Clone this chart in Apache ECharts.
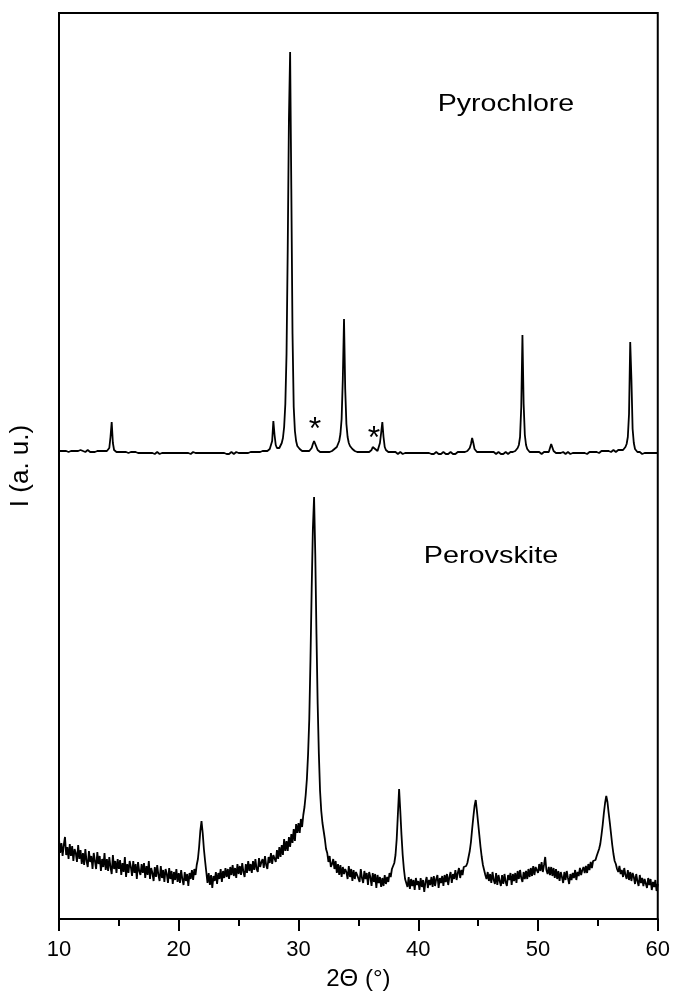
<!DOCTYPE html>
<html><head><meta charset="utf-8">
<script src="https://cdn.jsdelivr.net/npm/echarts@6/dist/echarts.min.js"></script>
<style>html,body{margin:0;padding:0;background:#fff}#c{width:673px;height:998px}</style>
</head><body><div id="c"></div>
<script>
// 2-theta sampling of the scans (degrees)
const thetaStart = 10;
const thetaStep = 0.1;
const xTicks = [10, 20, 30, 40, 50, 60];

// Pyrochlore pattern (offset upward), one row per degree
const pyrochlore = [
468,469,468,467,468,469,468,468,467,468,
468,467,468,469,468,467,468,468,469,467,
468,468,467,468,469,468,467,468,467,468,
467,468,468,467,468,467,468,469,468,467,
468,468,471,482,497,476,469,468,467,468,
467,466,467,468,467,466,467,468,466,467,
467,466,467,466,467,468,466,467,466,467,
466,467,466,467,466,465,466,467,466,466,
465,466,467,466,465,466,466,465,466,467,
466,465,466,465,466,467,466,465,466,465,
466,465,466,467,466,465,466,465,466,466,
465,466,467,468,466,465,466,465,466,465,
466,465,466,467,466,465,466,467,466,465,
466,465,466,465,466,467,466,465,466,466,
465,466,465,466,467,466,465,466,467,466,
466,467,466,465,466,467,466,467,466,467,
467,466,467,468,467,466,467,468,467,468,
468,467,468,469,468,469,470,472,478,498,
484,474,471,470,471,473,476,481,492,515,
565,670,800,867,730,585,512,488,478,473,
471,470,469,468,469,468,467,468,469,468,
469,471,475,478,476,472,469,468,467,468,
467,468,467,466,467,468,467,468,468,469,
470,471,472,474,478,485,500,540,600,530,
495,482,476,473,471,470,469,468,468,467,
468,467,468,467,466,467,468,467,468,467,
468,469,472,473,470,468,468,470,476,486,
497,482,472,469,468,467,468,467,466,467,
466,467,466,465,466,467,466,465,466,466,
465,466,467,466,465,466,465,466,467,466,
465,466,465,466,465,466,467,466,465,466,
466,465,466,465,466,467,466,465,466,465,
466,467,466,465,466,465,466,467,466,465,
466,465,466,467,466,467,466,467,468,467,
467,468,469,471,475,481,476,470,468,467,
468,467,468,467,466,467,468,467,466,467,
466,467,466,467,466,465,466,467,466,465,
466,465,466,467,466,465,466,467,466,467,
467,468,469,471,474,482,512,584,515,484,
474,470,468,467,466,467,466,467,466,467,
466,467,466,465,466,467,466,467,466,467,
469,475,473,468,467,466,467,466,467,466,
466,467,466,465,466,467,466,465,466,466,
465,466,467,466,465,466,465,466,467,466,
466,465,466,467,466,467,468,467,466,467,
467,466,467,468,467,468,467,468,469,468,
468,467,468,469,468,467,468,469,468,469,
468,469,470,472,475,482,505,577,540,490,
476,470,468,467,466,467,466,465,466,466,
465,466,467,466,465,466,467,466,465,466,
466
];

// Perovskite pattern (lower trace), one row per degree
const perovskite = [
80,66,76,63,74,82,64,72,60,75,
63,73,58,70,66,57,74,60,69,55,
66,54,70,58,52,68,57,63,50,66,
58,50,67,55,63,48,60,52,66,49,
60,48,62,52,45,64,50,58,46,60,
50,59,44,56,47,62,42,55,46,58,
52,43,58,46,55,40,57,48,44,55,
46,56,41,53,44,58,40,51,46,38,
52,42,54,44,38,53,41,49,37,50,
45,36,51,40,48,35,47,39,50,37,
46,36,49,40,34,47,38,45,33,46,
40,49,39,50,44,54,60,72,88,98,
86,70,58,47,36,46,34,44,31,43,
38,47,35,46,40,50,37,48,41,51,
42,50,40,52,44,54,43,51,41,55,
45,53,44,56,47,42,55,46,58,48,
55,46,58,49,60,50,47,61,52,57,
60,51,63,54,50,62,56,66,55,64,
65,57,69,60,72,62,74,64,80,68,
78,68,82,72,85,76,90,78,95,86,
96,86,100,92,104,112,124,140,165,200,
260,330,390,422,365,285,215,165,128,108,
96,88,80,70,66,57,63,52,55,60,
50,58,46,55,44,54,42,52,45,50,
47,40,53,42,50,38,49,40,47,44,
45,37,50,41,36,48,40,46,34,47,
42,33,46,37,45,31,44,36,42,32,
41,33,44,35,42,37,46,42,50,53,
56,64,80,105,130,108,84,64,50,40,
41,32,42,30,40,33,39,29,41,34,
38,29,41,32,39,27,37,42,31,39,
34,42,32,43,33,40,44,31,41,36,
43,33,44,37,45,34,42,47,36,45,
40,49,39,46,51,41,49,44,52,50,
53,56,62,68,77,90,102,113,119,108,
96,84,72,62,54,49,44,40,47,38,
45,36,47,39,35,46,34,44,38,33,
44,35,45,37,33,44,39,46,34,45,
38,46,36,48,40,49,41,37,47,40,
48,40,50,42,51,43,53,44,52,54,
46,55,48,57,47,54,62,49,45,52,
44,52,43,51,41,50,40,48,38,47,
42,36,47,39,48,41,35,45,39,46,
41,49,39,47,43,51,44,49,52,46,
53,46,55,49,57,51,58,60,59,63,
65,70,75,84,94,106,116,123,117,106,
96,85,74,65,58,55,50,47,53,45,
49,42,51,44,40,49,39,47,38,46,
42,35,45,38,33,44,36,41,33,40,
38,31,41,34,40,29,37,32,39,28,
35
];

const sampleNames = ['Pyrochlore', 'Perovskite'];
const impurityMarks = ['*', '*'];

function toPairs(arr) {
  return arr.map((v, i) => [+(thetaStart + i * thetaStep).toFixed(2), v]);
}

const FONT = '"Liberation Sans", Arial, Helvetica, sans-serif';
const chart = echarts.init(document.getElementById('c'), null, {renderer: 'canvas'});
chart.setOption({
  animation: false,
  backgroundColor: '#fff',
  grid: {left: 59, right: 15, top: 13, bottom: 79, show: true, borderColor: '#000', borderWidth: 2, backgroundColor: 'transparent'},
  xAxis: {
    type: 'value', min: xTicks[0], max: xTicks[xTicks.length - 1], interval: 10,
    name: '2Θ (°)', nameLocation: 'middle', nameGap: 48,
    nameTextStyle: {fontFamily: FONT, fontSize: 24, color: '#000'},
    axisLine: {show: true, lineStyle: {color: '#000', width: 2}},
    axisTick: {show: true, inside: false, length: 12, lineStyle: {color: '#000', width: 2}},
    minorTick: {show: true, splitNumber: 2, length: 7, lineStyle: {color: '#000', width: 2}},
    axisLabel: {fontFamily: FONT, fontSize: 22, color: '#000', margin: 20},
    splitLine: {show: false}
  },
  yAxis: {
    type: 'value', min: 0, max: 906,
    name: 'I (a. u.)', nameLocation: 'middle', nameGap: 25,
    nameTextStyle: {fontFamily: FONT, fontSize: 26, color: '#000'},
    axisLine: {show: true, lineStyle: {color: '#000', width: 2}},
    axisTick: {show: false}, axisLabel: {show: false}, splitLine: {show: false}
  },
  series: [
    {name: sampleNames[0], type: 'line', data: toPairs(pyrochlore), showSymbol: false, symbol: 'none',
     lineStyle: {color: '#000', width: 1.8}, z: 3},
    {name: sampleNames[1], type: 'line', data: toPairs(perovskite), showSymbol: false, symbol: 'none',
     lineStyle: {color: '#000', width: 1.8}, z: 3}
  ],
  graphic: [
    {type: 'text', x: 506, y: 104, scaleX: 1.19, style: {text: sampleNames[0], font: '24px ' + FONT, fill: '#000', textAlign: 'center', textVerticalAlign: 'middle'}},
    {type: 'text', x: 491, y: 556, scaleX: 1.2, style: {text: sampleNames[1], font: '24px ' + FONT, fill: '#000', textAlign: 'center', textVerticalAlign: 'middle'}},
    {type: 'text', x: 315, y: 430, style: {text: impurityMarks[0], font: '32px ' + FONT, fill: '#000', textAlign: 'center', textVerticalAlign: 'middle'}},
    {type: 'text', x: 374, y: 439, style: {text: impurityMarks[1], font: '32px ' + FONT, fill: '#000', textAlign: 'center', textVerticalAlign: 'middle'}}
  ]
});
</script>
</body></html>
